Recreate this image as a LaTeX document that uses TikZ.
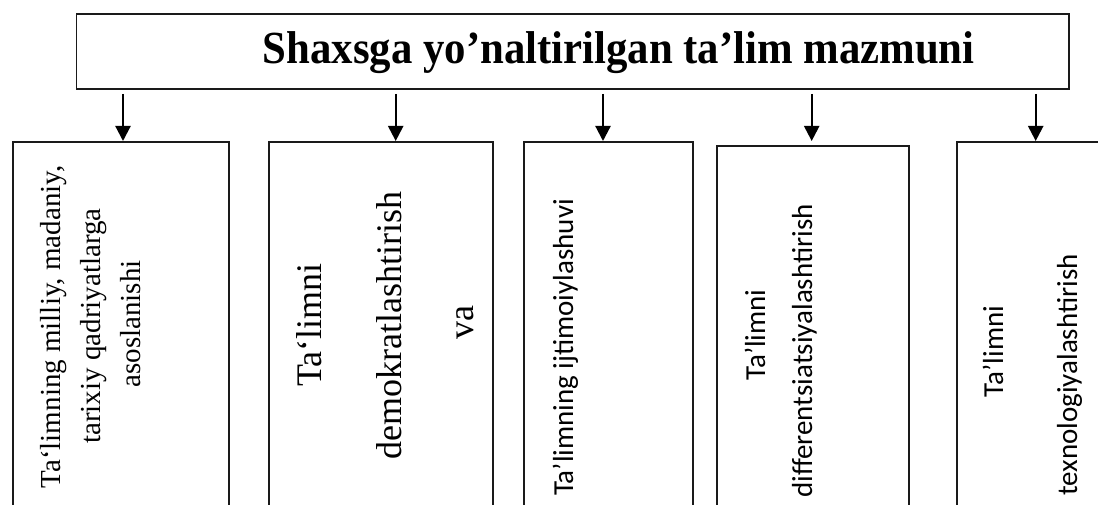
\documentclass[tikz,border=0pt]{standalone}
\usepackage{fontspec}
\setmainfont{Liberation Serif}
\newfontfamily\calfont{Carlito}
\newfontfamily\ttlfont[FakeStretch=0.93]{Liberation Serif}
\usetikzlibrary{arrows.meta}
\definecolor{lineblk}{HTML}{1A1A1A}
\tikzset{
  box/.style={draw=lineblk, line width=1.8pt, inner sep=0pt, anchor=north west},
  arr/.style={draw=black, line width=2.2pt, -{Triangle[length=15pt,width=15pt]}},
  serifA/.style={rotate=90, anchor=base, inner sep=0pt, font=\rmfamily\fontsize{29}{35}\selectfont},
  serifB/.style={rotate=90, anchor=base, inner sep=0pt, font=\rmfamily\fontsize{36}{42}\selectfont},
  sansA/.style={rotate=90, anchor=base, inner sep=0pt, font=\calfont\fontsize{29}{35}\selectfont},
  titlestyle/.style={anchor=base west, inner sep=0pt, font=\ttlfont\bfseries\fontsize{46}{52}\selectfont}
}
\begin{document}
\begin{tikzpicture}[x=1pt,y=-1pt]
\useasboundingbox (0,0) rectangle (1098,505);
\clip (0,0) rectangle (1098,505);
\fill[white] (0,0) rectangle (1098,505);
% title
\node[box, minimum width=992.5pt, minimum height=75pt] (title) at (75.5,13) {};
\node[titlestyle] (titletext) at (262.6,63.5) {Shaxsga yo’naltirilgan ta’lim mazmuni};
% boxes
\node[box, minimum width=216.3pt, minimum height=400pt] (b1) at (11.7,141) {};
\node[box, minimum width=223.4pt, minimum height=400pt] (b2) at (268.3,141) {};
\node[box, minimum width=169pt, minimum height=400pt] (b3) at (522.7,141) {};
\node[box, minimum width=192.3pt, minimum height=400pt] (b4) at (715.7,145) {};
\node[box, minimum width=170pt, minimum height=400pt] (b5) at (956,141) {};
% arrows
\coordinate (s1) at (123,94);
\coordinate (s2) at (395.7,94);
\coordinate (s3) at (603,94);
\coordinate (s4) at (811.7,94);
\coordinate (s5) at (1035.7,94);
\coordinate (e4) at (811.7,141);
\draw[arr] (s1) -- (s1 |- b1.north);
\draw[arr] (s2) -- (s2 |- b2.north);
\draw[arr] (s3) -- (s3 |- b3.north);
\draw[arr] (s4) -- (e4);
\draw[arr] (s5) -- (s5 |- b5.north);
% texts box 1
\node[serifA] (t11) at (60,327) {Ta‘limning milliy, madaniy,};
\node[serifA] (t12) at (100,326) {tarixiy qadriyatlarga};
\node[serifA] (t13) at (140,324) {asoslanishi};
% box 2
\node[serifB] (t21) at (321.7,325) {Ta‘limni};
\node[serifB] (t22) at (401.7,325.5) {demokratlashtirish};
\node[serifB] (t23) at (473,323) {va};
% box 3
\node[sansA] (t31) at (573,347.5) {Ta’limning ijtimoiylashuvi};
% box 4
\node[sansA] (t41) at (765,335) {Ta’limni};
\node[sansA] (t42) at (812,351) {differentsiatsiyalashtirish};
% box 5
\node[sansA] (t51) at (1003,351.5) {Ta’limni};
\node[sansA] (t52) at (1077,375) {texnologiyalashtirish};
\end{tikzpicture}
\end{document}
